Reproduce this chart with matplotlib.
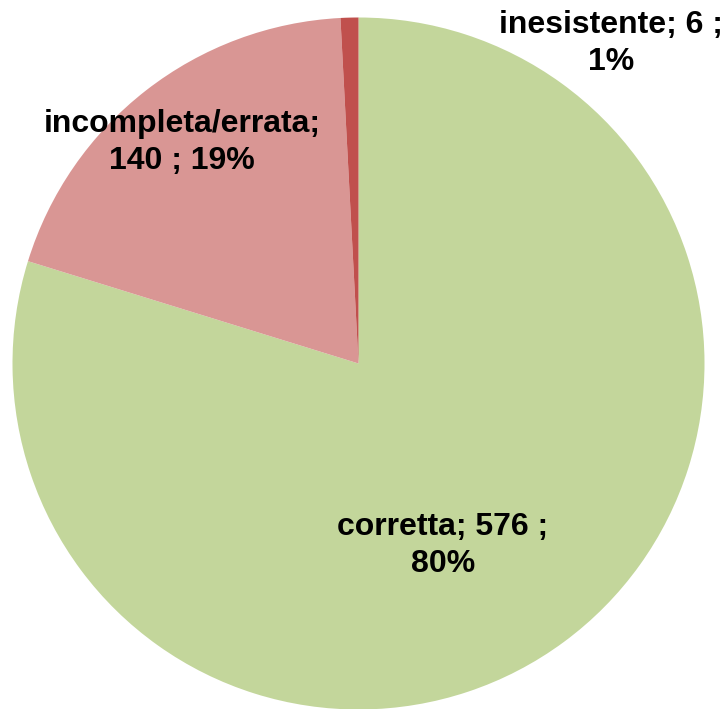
import matplotlib.pyplot as plt

plt.rcParams['font.family'] = ['Liberation Sans', 'DejaVu Sans']

# data
categories = ["corretta", "incompleta/errata", "inesistente"]
counts = [576, 140, 6]
percents = [80, 19, 1]
colors = ["#C3D69B", "#D99694", "#C0504D"]

# label positions (pie radius = 1)
label_pos = [(0.244, -0.525), (-0.510, 0.640), (0.730, 0.925)]
label_txt = ["corretta; 576 ;\n80%", "incompleta/errata;\n140 ; 19%", "inesistente; 6 ;\n1%"]

fig = plt.figure(figsize=(7.28, 7.09), dpi=100)
ax = fig.add_axes([0, 0, 1, 1])

ax.pie(counts, colors=colors, startangle=90, counterclock=False,
       radius=1, center=(0, 0), wedgeprops=dict(linewidth=0))

# pixel mapping: centre (358.5, 363.5), radius 346 px
cx, cy, r = 358.5, 363.5, 346.0
ax.set_aspect('auto')
ax.set_xlim((0 - cx) / r, (728 - cx) / r)
ax.set_ylim(-(709 - cy) / r, cy / r)
ax.axis('off')

for (x, y), t in zip(label_pos, label_txt):
    ax.text(x, y, t, ha='center', va='center', multialignment='center',
            fontsize=23, fontweight='bold', color='black', linespacing=1.3)

fig.savefig("out.png", dpi=100)
